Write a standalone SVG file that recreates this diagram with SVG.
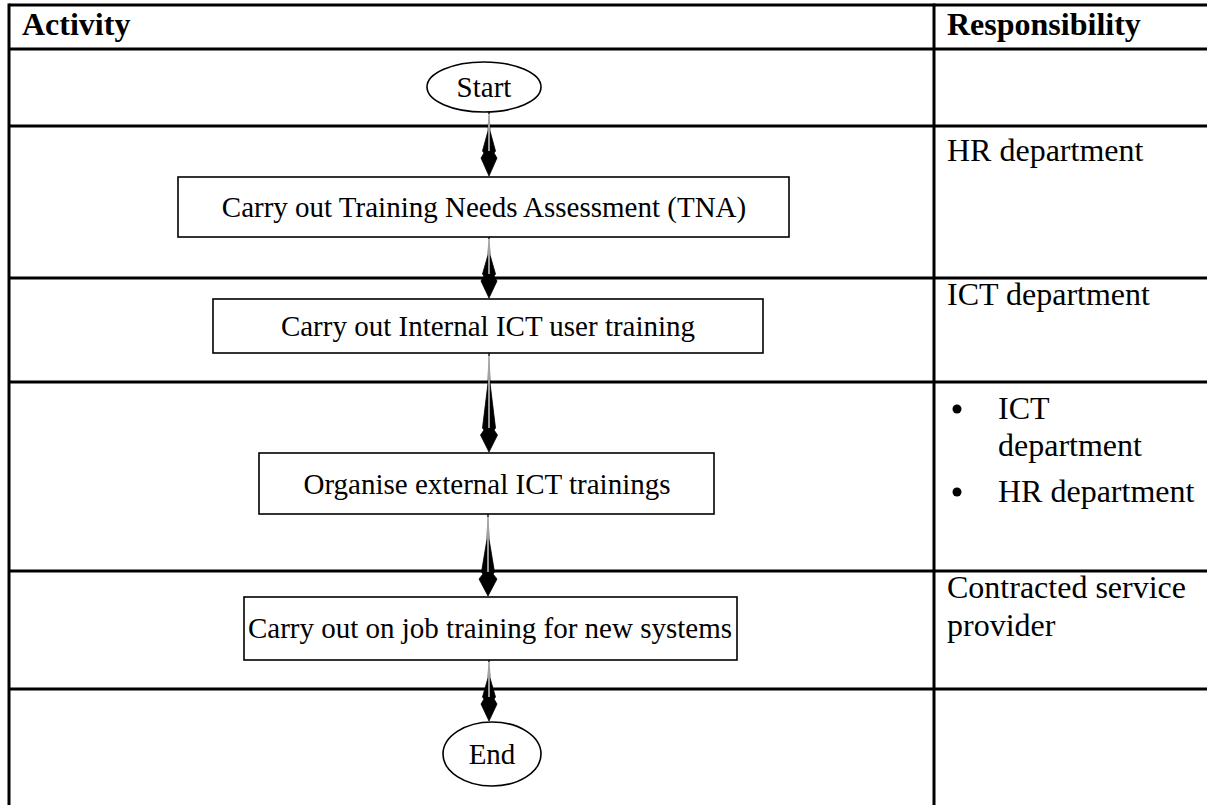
<svg xmlns="http://www.w3.org/2000/svg" width="1207" height="805" viewBox="0 0 1207 805">
  <style>
    .grid { stroke: #000; stroke-width: 3; fill: none; }
    .box { fill: #fff; stroke: #000; stroke-width: 1.6; }
    .head { font-family: "Liberation Serif", "Times New Roman", serif; font-weight: bold; font-size: 32px; fill: #000; }
    .cell { font-family: "Liberation Serif", "Times New Roman", serif; font-size: 32px; fill: #000; }
    .lbl { font-family: "Liberation Serif", "Times New Roman", serif; font-size: 29px; fill: #000; text-anchor: middle; }
    .arrow { fill: #000; stroke: #000; stroke-width: 0.8; stroke-linejoin: miter; }
    .core { stroke: #fff; stroke-width: 1.2; }
  </style>
  <rect width="1207" height="805" fill="#fff"/>

  <!-- table grid -->
  <g id="table">
    <line class="grid" x1="9" y1="5" x2="1207" y2="5"/>
    <line class="grid" x1="9" y1="49" x2="1207" y2="49"/>
    <line class="grid" x1="9" y1="126" x2="1207" y2="126"/>
    <line class="grid" x1="9" y1="278" x2="1207" y2="278"/>
    <line class="grid" x1="9" y1="382" x2="1207" y2="382"/>
    <line class="grid" x1="9" y1="571" x2="1207" y2="571"/>
    <line class="grid" x1="9" y1="689" x2="1207" y2="689"/>
    <line class="grid" x1="9" y1="3.5" x2="9" y2="805"/>
    <line class="grid" x1="934" y1="3.5" x2="934" y2="805"/>
    <text class="head" x="22" y="35">Activity</text>
    <text class="head" x="947" y="35">Responsibility</text>
  </g>

  <!-- responsibility column -->
  <g id="responsibility">
    <text class="cell" x="947" y="161">HR department</text>
    <text class="cell" x="947" y="305">ICT department</text>
    <circle cx="957" cy="409" r="4.5" fill="#000"/>
    <text class="cell" x="998" y="419">ICT</text>
    <text class="cell" x="998" y="456">department</text>
    <circle cx="957" cy="492" r="4.5" fill="#000"/>
    <text class="cell" x="998" y="502">HR department</text>
    <text class="cell" x="947" y="598">Contracted service</text>
    <text class="cell" x="947" y="636">provider</text>
  </g>

  <!-- connectors: tapered shafts ending in a pointed head -->
  <g id="connectors">
    <polygon class="arrow" points="489,112 490,131 495.5,151 494,153 497,158 489,176 481,158 484,153 482.5,151 488,131"/>
    <line class="core" x1="489" y1="114" x2="489" y2="151"/>
    <polygon class="arrow" points="489,237 490,255 495.5,274 494,276 497,281 489,298 481,281 484,276 482.5,274 488,255"/>
    <line class="core" x1="489" y1="239" x2="489" y2="274"/>
    <polygon class="arrow" points="489,353 490,383 495.5,428 494,430 497.5,435 489,452 480.5,435 484,430 482.5,428 488,383"/>
    <line class="core" x1="489" y1="356" x2="489" y2="428"/>
    <polygon class="arrow" points="488,514 489,539 494.5,572 493,574 497,579 488,596 479,579 483,574 481.5,572 487,539"/>
    <line class="core" x1="488" y1="517" x2="488" y2="572"/>
    <polygon class="arrow" points="489,660 490,678 495.5,697 494,699 497,704 489,721 481,704 484,699 482.5,697 488,678"/>
    <line class="core" x1="489" y1="662" x2="489" y2="697"/>
  </g>

  <g id="start">
    <ellipse class="box" cx="484" cy="87" rx="57" ry="25"/>
    <text class="lbl" x="484" y="97">Start</text>
  </g>
  <g id="tna">
    <rect class="box" x="178" y="177" width="611" height="60"/>
    <text class="lbl" x="484" y="217">Carry out Training Needs Assessment (TNA)</text>
  </g>
  <g id="internal-training">
    <rect class="box" x="213" y="299" width="550" height="54"/>
    <text class="lbl" x="488" y="336">Carry out Internal ICT user training</text>
  </g>
  <g id="external-training">
    <rect class="box" x="259" y="453" width="455" height="61"/>
    <text class="lbl" x="487" y="494">Organise external ICT trainings</text>
  </g>
  <g id="job-training">
    <rect class="box" x="244" y="597" width="493" height="63"/>
    <text class="lbl" x="490" y="638">Carry out on job training for new systems</text>
  </g>
  <g id="end">
    <ellipse class="box" cx="492" cy="754" rx="49" ry="32"/>
    <text class="lbl" x="492" y="764">End</text>
  </g>
</svg>
